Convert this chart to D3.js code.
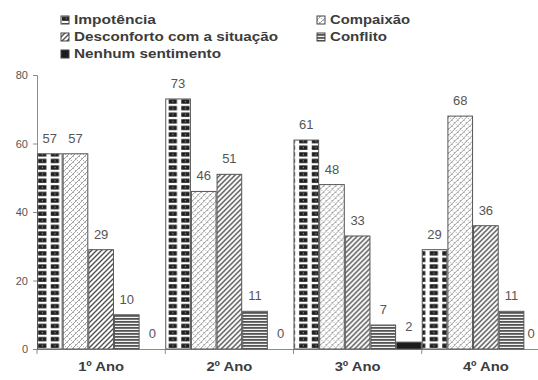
<!DOCTYPE html>
<html>
<head>
<meta charset="utf-8">
<script src="https://cdn.jsdelivr.net/npm/d3@7"></script>
<style>
  html, body { margin: 0; padding: 0; background: #fff; }
  svg { display: block; font-family: "Liberation Sans", Arial, sans-serif; }
</style>
</head>
<body>
<svg id="chart" width="538" height="380"></svg>
<script>
// Respostas por ano do curso (%)
const anos = ["1º Ano", "2º Ano", "3º Ano", "4º Ano"];
const sentimentos = ["Impotência", "Compaixão", "Desconforto com a situação", "Conflito", "Nenhum sentimento"];
const impotencia  = [57, 73, 61, 29];
const compaixao   = [57, 46, 48, 68];
const desconforto = [29, 51, 33, 36];
const conflito    = [10, 11, 7, 11];
const nenhum      = [0, 0, 2, 0];
const yTicks = [0, 20, 40, 60, 80];

const series = [impotencia, compaixao, desconforto, conflito, nenhum];
const patternIds = ["p-imp", "p-comp", "p-desc", "p-conf", "p-nen"];

const svg = d3.select("#chart");
const defs = svg.append("defs");

// Scales
const x0 = d3.scaleBand().domain(anos).range([37, 550]).paddingInner(0).paddingOuter(0);
const x1 = d3.scaleBand().domain(d3.range(sentimentos.length)).range([0, x0.bandwidth()]).padding(0);
const y = d3.scaleLinear().domain([0, 80]).range([349, 75]);

// Dark block pattern (one per origin so each bar starts on a full block)
function blockPattern(id, ox, oy) {
  const p = defs.append("pattern").attr("id", id).attr("patternUnits", "userSpaceOnUse")
    .attr("x", ox).attr("y", oy).attr("width", 12.6).attr("height", 6.6);
  p.append("rect").attr("width", 12.6).attr("height", 6.6).attr("fill", "#fff");
  p.append("rect").attr("x", 2).attr("y", 1.2).attr("width", 8.2).attr("height", 4.3).attr("fill", "#1e1e1e");
  p.append("rect").attr("x", 5.6).attr("y", 2.7).attr("width", 1.2).attr("height", 1.3).attr("fill", "#8a8a8a");
}
anos.forEach((a, i) => blockPattern(`p-imp-${i}`, x0(a) + x1(0), 349));
blockPattern("p-imp", 62, 2);

(function buildPatterns() {
  // light crosshatch
  let p = defs.append("pattern").attr("id", "p-comp").attr("patternUnits", "userSpaceOnUse")
    .attr("width", 6).attr("height", 6);
  p.append("rect").attr("width", 6).attr("height", 6).attr("fill", "#fff");
  p.append("path").attr("d", "M0,6 L6,0 M-1,1 L1,-1 M5,7 L7,5").attr("stroke", "#939393").attr("stroke-width", 0.9);
  p.append("path").attr("d", "M0,0 L6,6 M5,-1 L7,1 M-1,5 L1,7").attr("stroke", "#a8a8a8").attr("stroke-width", 0.9)
    .attr("stroke-dasharray", "1.6,1.2");

  // diagonal stripes
  p = defs.append("pattern").attr("id", "p-desc").attr("patternUnits", "userSpaceOnUse")
    .attr("width", 5).attr("height", 5);
  p.append("rect").attr("width", 5).attr("height", 5).attr("fill", "#fff");
  p.append("path").attr("d", "M0,5 L5,0 M-1,1 L1,-1 M4,6 L6,4").attr("stroke", "#505050").attr("stroke-width", 1.4);

  // horizontal stripes
  p = defs.append("pattern").attr("id", "p-conf").attr("patternUnits", "userSpaceOnUse")
    .attr("width", 4).attr("height", 3);
  p.append("rect").attr("width", 4).attr("height", 3).attr("fill", "#f2f2f2");
  p.append("rect").attr("y", 0).attr("width", 4).attr("height", 1.8).attr("fill", "#555");

  // solid
  p = defs.append("pattern").attr("id", "p-nen").attr("patternUnits", "userSpaceOnUse")
    .attr("width", 4).attr("height", 4);
  p.append("rect").attr("width", 4).attr("height", 4).attr("fill", "#1c1c1c");
})();

// Axes
const yAxis = svg.append("g").attr("transform", "translate(37,0)")
  .call(d3.axisLeft(y).tickValues(yTicks).tickSize(4).tickPadding(5));
yAxis.select(".domain").attr("stroke", "#8c8c8c");
yAxis.selectAll(".tick line").attr("stroke", "#8c8c8c");
yAxis.selectAll(".tick text").attr("fill", "#555").attr("font-size", 11)
  .attr("font-family", "Liberation Sans, Arial, sans-serif");

const xAxis = svg.append("g").attr("transform", "translate(0,349)")
  .call(d3.axisBottom(x0).tickSize(0).tickPadding(13).tickSizeOuter(0));
xAxis.select(".domain").attr("stroke", "#8c8c8c");
xAxis.selectAll(".tick text").attr("fill", "#3c3c3c").attr("font-size", 12).attr("font-weight", "bold")
  .attr("font-family", "Liberation Sans, Arial, sans-serif")
  .attr("textLength", 46).attr("lengthAdjust", "spacingAndGlyphs");
// group separators
svg.append("g").selectAll("line").data(anos).join("line")
  .attr("x1", d => x0(d)).attr("x2", d => x0(d))
  .attr("y1", 349).attr("y2", 354).attr("stroke", "#8c8c8c");

// Bars
const groups = svg.append("g").selectAll("g").data(anos).join("g")
  .attr("transform", d => `translate(${x0(d)},0)`);

groups.each(function(ano, gi) {
  const g = d3.select(this);
  series.forEach((vals, si) => {
    const v = vals[gi];
    if (v > 0) {
      const fillId = si === 0 ? `p-imp-${gi}` : patternIds[si];
      g.append("rect")
        .attr("x", x1(si) + 0.5)
        .attr("y", y(v))
        .attr("width", x1.bandwidth() - 1)
        .attr("height", y(0) - y(v))
        .attr("fill", `url(#${fillId})`)
        .attr("stroke", "#555").attr("stroke-width", 1);
    }
    // keep the last label inside the drawing area
    const cx = Math.min(x0(ano) + x1(si) + x1.bandwidth() / 2, 531) - x0(ano);
    g.append("text")
      .attr("x", cx)
      .attr("y", y(v) - 11)
      .attr("text-anchor", "middle")
      .attr("font-size", 13)
      .attr("fill", "#555")
      .text(v);
  });
});

// Legend
const legendPos = [
  { x: 61, y: 20 }, { x: 317, y: 20 },
  { x: 61, y: 37 }, { x: 317, y: 37 },
  { x: 61, y: 54 }
];
const legendWidths = [82, 80, 204, 57, 147];
const legend = svg.append("g").selectAll("g").data(sentimentos).join("g")
  .attr("transform", (d, i) => `translate(${legendPos[i].x},${legendPos[i].y})`);
legend.append("rect")
  .attr("x", 0).attr("y", -4).attr("width", 8).attr("height", 8)
  .attr("fill", (d, i) => `url(#${patternIds[i]})`)
  .attr("stroke", "#444").attr("stroke-width", 1);
legend.append("text")
  .attr("x", 13).attr("y", 4)
  .attr("font-size", 12).attr("font-weight", "bold").attr("fill", "#3c3c3c")
  .attr("textLength", (d, i) => legendWidths[i]).attr("lengthAdjust", "spacingAndGlyphs")
  .text(d => d);
</script>
</body>
</html>
